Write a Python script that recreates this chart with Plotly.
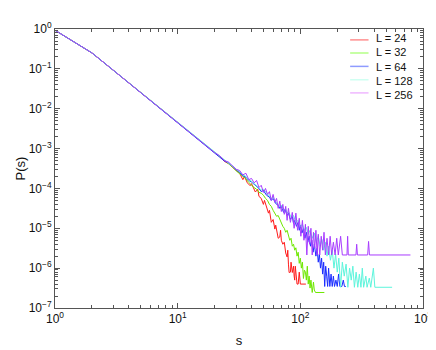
import plotly.graph_objects as go

# shared low-s part (all L coincide here)
s_head = [1, 2, 3, 4, 5, 6, 7, 8, 9, 10, 12, 14, 16, 18, 20]
p_head = [0.93, 0.251, 0.0912, 0.0444, 0.0254, 0.0161, 0.011, 0.00785, 0.00585,
          0.00449, 0.00285, 0.00194, 0.00139, 0.00104, 7.94e-4]

s_24 = [22, 24, 26, 28, 30, 32, 34, 35, 37, 39, 40, 42, 43, 45, 46, 48, 50, 51, 53, 55,
        56, 57, 58, 60, 62, 63, 65, 66, 68, 69, 70, 72, 74, 75, 76, 78, 79, 80, 81, 83,
        84, 86, 88, 89, 90, 91, 92, 93, 94, 96, 98, 100, 111]
p_24 = [6.31e-4, 4.79e-4, 4.17e-4, 3.39e-4, 2.82e-4, 2.40e-4, 1.66e-4, 2.00e-4, 1.38e-4,
        1.17e-4, 1.32e-4, 8.91e-5, 8.13e-5, 9.55e-5, 6.31e-5, 5.62e-5, 3.98e-5, 5.01e-5,
        3.16e-5, 2.40e-5, 2.82e-5, 1.95e-5, 1.41e-5, 1.66e-5, 9.55e-6, 1.20e-5, 7.94e-6,
        5.62e-6, 6.03e-6, 8.91e-6, 5.01e-6, 3.98e-6, 4.47e-6, 3.24e-6, 2.40e-6, 1.91e-6,
        2.82e-6, 1.26e-6, 7.76e-7, 7.94e-7, 1.41e-6, 7.76e-7, 1.12e-6, 6.31e-7, 5.01e-7,
        1.12e-6, 7.94e-7, 4.57e-7, 3.98e-7, 3.98e-7, 7.94e-7, 3.98e-7, 3.98e-7]

s_32 = [22, 24, 26, 28, 30, 32, 34, 36, 38, 40, 42, 44, 46, 48, 50, 52, 54, 56, 58, 60,
        62, 64, 66, 68, 70, 72, 74, 76, 78, 80, 82, 84, 86, 88, 90, 92, 94, 96, 98, 100,
        102, 104, 106, 108, 110, 112, 114, 116, 118, 120, 122, 125, 128, 130, 133, 157]
p_32 = [6.17e-4, 5.01e-4, 3.98e-4, 3.47e-4, 2.75e-4, 2.34e-4, 2.00e-4, 1.74e-4, 1.41e-4,
        1.20e-4, 1.05e-4, 9.55e-5, 7.94e-5, 7.59e-5, 6.76e-5, 5.62e-5, 5.01e-5, 3.98e-5,
        3.55e-5, 2.82e-5, 2.40e-5, 2.00e-5, 2.09e-5, 1.62e-5, 1.26e-5, 1.12e-5, 1.00e-5,
        7.94e-6, 8.91e-6, 6.61e-6, 5.01e-6, 5.62e-6, 3.55e-6, 3.98e-6, 2.82e-6, 3.24e-6,
        2.00e-6, 2.51e-6, 1.32e-6, 1.78e-6, 1.00e-6, 1.41e-6, 5.50e-7, 8.91e-7, 7.94e-7,
        5.01e-7, 1.12e-6, 3.98e-7, 6.31e-7, 3.16e-7, 5.01e-7, 2.45e-7, 4.47e-7, 2.82e-7,
        2.45e-7, 2.45e-7]

s_64 = [22, 24, 26, 28, 30, 32, 34, 36, 38, 40, 43, 46, 48, 50, 53, 56, 58, 60, 63, 66,
        68, 70, 73, 75, 78, 80, 83, 86, 88, 90, 93, 96, 98, 100, 103, 106, 109, 112, 115,
        118, 121, 124, 127, 130, 134, 137, 140, 143, 146, 149, 152, 155, 158, 161, 164,
        167, 170, 174, 178, 182, 186, 190, 195, 200, 205, 210, 218, 224, 229, 235]
p_64 = [6.31e-4, 4.90e-4, 4.37e-4, 3.47e-4, 2.95e-4, 2.51e-4, 2.09e-4, 1.91e-4, 1.58e-4,
        1.45e-4, 1.20e-4, 1.00e-4, 8.32e-5, 8.91e-5, 6.76e-5, 6.03e-5, 5.01e-5, 5.62e-5,
        4.17e-5, 3.80e-5, 3.16e-5, 3.55e-5, 2.51e-5, 3.02e-5, 2.09e-5, 2.40e-5, 1.66e-5,
        2.00e-5, 1.32e-5, 1.58e-5, 1.12e-5, 1.41e-5, 8.91e-6, 1.20e-5, 7.59e-6, 1.00e-5,
        5.62e-6, 7.94e-6, 4.47e-6, 6.31e-6, 3.55e-6, 5.01e-6, 2.51e-6, 3.98e-6, 2.00e-6,
        3.16e-6, 1.41e-6, 2.24e-6, 1.00e-6, 1.78e-6, 7.08e-7, 1.41e-6, 3.47e-7, 1.12e-6,
        6.31e-7, 3.47e-7, 1.00e-6, 3.47e-7, 7.08e-7, 3.47e-7, 6.31e-7, 3.47e-7, 5.01e-7,
        3.47e-7, 7.08e-7, 3.47e-7, 3.47e-7, 5.01e-7, 3.47e-7, 3.47e-7]

s_128 = [22, 24, 26, 28, 30, 32, 34, 36, 38, 40, 43, 46, 48, 50, 53, 56, 58, 60, 63, 66,
         68, 70, 73, 76, 78, 80, 84, 88, 92, 96, 100, 104, 108, 112, 116, 120, 125, 130,
         135, 140, 145, 150, 155, 160, 165, 170, 176, 182, 188, 194, 200, 206, 213, 220,
         228, 236, 244, 252, 260, 268, 276, 285, 294, 303, 312, 320, 328, 342, 350, 365,
         375, 394, 405, 560]
p_128 = [6.46e-4, 5.13e-4, 4.27e-4, 3.55e-4, 3.02e-4, 2.63e-4, 2.19e-4, 2.00e-4, 1.66e-4,
         1.51e-4, 1.26e-4, 1.05e-4, 9.12e-5, 9.55e-5, 7.59e-5, 6.31e-5, 5.62e-5, 6.03e-5,
         4.57e-5, 3.98e-5, 3.47e-5, 3.80e-5, 2.82e-5, 3.02e-5, 2.40e-5, 2.63e-5, 1.91e-5,
         2.09e-5, 1.41e-5, 1.58e-5, 1.12e-5, 1.26e-5, 8.91e-6, 1.05e-5, 7.08e-6, 8.91e-6,
         5.62e-6, 7.59e-6, 4.47e-6, 6.31e-6, 3.55e-6, 5.25e-6, 2.82e-6, 4.47e-6, 2.00e-6,
         3.55e-6, 1.58e-6, 2.82e-6, 1.00e-6, 2.24e-6, 7.94e-7, 1.78e-6, 3.31e-7, 1.41e-6,
         6.31e-7, 1.26e-6, 3.31e-7, 1.00e-6, 5.01e-7, 1.12e-6, 3.31e-7, 7.94e-7, 3.31e-7,
         7.08e-7, 3.31e-7, 1.00e-6, 3.31e-7, 6.31e-7, 3.31e-7, 5.62e-7, 3.31e-7, 1.00e-6,
         3.31e-7, 3.31e-7]

s_256 = [22, 24, 26, 28, 30, 32, 34, 36, 38, 40, 42, 44, 46, 48, 50, 52, 54, 56, 58, 60,
         62, 64, 66, 68, 70, 72, 74, 76, 78, 80, 83, 86, 89, 92, 95, 98, 101, 104, 107,
         110, 113, 116, 119, 122, 125, 128, 131, 134, 137, 140, 144, 148, 152, 156, 160,
         165, 170, 175, 180, 186, 192, 198, 204, 213, 220, 240, 243, 246, 284, 288, 292,
         354, 360, 366, 790]
p_256 = [6.61e-4, 5.01e-4, 4.57e-4, 3.63e-4, 3.02e-4, 2.82e-4, 2.19e-4, 2.40e-4, 1.66e-4,
         1.78e-4, 1.38e-4, 1.58e-4, 1.05e-4, 1.20e-4, 7.94e-5, 1.00e-4, 7.08e-5, 8.32e-5,
         5.01e-5, 7.08e-5, 4.47e-5, 5.62e-5, 3.16e-5, 4.79e-5, 2.63e-5, 3.98e-5, 2.24e-5,
         3.55e-5, 1.58e-5, 3.16e-5, 1.41e-5, 2.51e-5, 1.00e-5, 2.40e-5, 8.91e-6, 1.78e-5,
         6.31e-6, 1.58e-5, 5.01e-6, 1.26e-5, 2.14e-6, 1.12e-5, 3.98e-6, 1.00e-5, 2.14e-6,
         7.94e-6, 3.16e-6, 8.91e-6, 2.14e-6, 7.08e-6, 2.14e-6, 6.31e-6, 2.82e-6, 7.94e-6,
         2.14e-6, 5.62e-6, 2.14e-6, 6.31e-6, 2.14e-6, 4.47e-6, 2.14e-6, 5.62e-6, 2.14e-6,
         6.31e-6, 2.14e-6, 2.14e-6, 6.31e-6, 2.14e-6, 2.14e-6, 3.98e-6, 2.14e-6, 2.14e-6,
         4.68e-6, 2.14e-6, 2.14e-6]

names = ["L = 24", "L = 32", "L = 64", "L = 128", "L = 256"]
line_colors = ["#ff1a1a", "#6ee800", "#1a2cff", "#5cf5dc", "#a83cff"]
legend_colors = ["#ff8f8f", "#b4ff86", "#8f9bff", "#cffff2", "#efb8ff"]
series_s = [s_24, s_32, s_64, s_128, s_256]
series_p = [p_24, p_32, p_64, p_128, p_256]

x_tickvals = [1, 10, 100, 1000]
x_ticktext = ["10<sup>0</sup>", "10<sup>1</sup>", "10<sup>2</sup>", "10<sup>3</sup>"]
y_tickvals = [1e-7, 1e-6, 1e-5, 1e-4, 1e-3, 1e-2, 1e-1, 1]
y_ticktext = ["10<sup>\u22127</sup>", "10<sup>\u22126</sup>", "10<sup>\u22125</sup>",
              "10<sup>\u22124</sup>", "10<sup>\u22123</sup>", "10<sup>\u22122</sup>",
              "10<sup>\u22121</sup>", "10<sup>0</sup>"]

fig = go.Figure()
for name, col, xs, ps in zip(names, line_colors, series_s, series_p):
    fig.add_trace(go.Scatter(x=s_head + xs, y=p_head + ps, mode="lines", name=name,
                             line=dict(color=col, width=1), showlegend=False))

# hand-drawn legend (entries are packed tighter than plotly's legend allows)
leg_y = [0.961, 0.914, 0.866, 0.818, 0.771]
for col, yy in zip(legend_colors, leg_y):
    fig.add_shape(type="line", xref="paper", yref="paper", x0=0.802, x1=0.852, y0=yy, y1=yy,
                  line=dict(color=col, width=1.5))
fig.add_annotation(x=0.866, y=0.866, xref="paper", yref="paper", text="<br>".join(names),
                   showarrow=False, xanchor="left", yanchor="middle", align="left",
                   font=dict(size=11, color="#111"))

minor_x = [2, 3, 4, 5, 6, 7, 8, 9, 20, 30, 40, 50, 60, 70, 80, 90,
           200, 300, 400, 500, 600, 700, 800, 900]
minor_y = []
for e in range(-7, 0):
    for m in range(2, 10):
        minor_y.append(m * 10.0 ** e)

axis_common = dict(type="log", showgrid=False, zeroline=False, showline=True,
                   linecolor="#555", linewidth=1, mirror="ticks", ticks="inside",
                   ticklen=5, tickcolor="#555", tickfont=dict(size=12, color="#111"))

fig.update_xaxes(range=[0, 3], tickvals=x_tickvals, ticktext=x_ticktext,
                 minor=dict(tickvals=minor_x, ticks="inside", ticklen=3, tickcolor="#555"),
                 title=dict(text="s", font=dict(size=13, color="#111"), standoff=10),
                 **axis_common)
fig.update_yaxes(range=[-7, 0], tickvals=y_tickvals, ticktext=y_ticktext,
                 minor=dict(tickvals=minor_y, ticks="inside", ticklen=3, tickcolor="#555"),
                 title=dict(text="P(s)", font=dict(size=13, color="#111"), standoff=0),
                 **axis_common)

fig.update_layout(width=436, height=350, margin=dict(l=42, r=13, t=14, b=35),
                  plot_bgcolor="white", paper_bgcolor="white",
                  font=dict(family="Liberation Sans, Arial, sans-serif"))

fig.write_html("out.html")
